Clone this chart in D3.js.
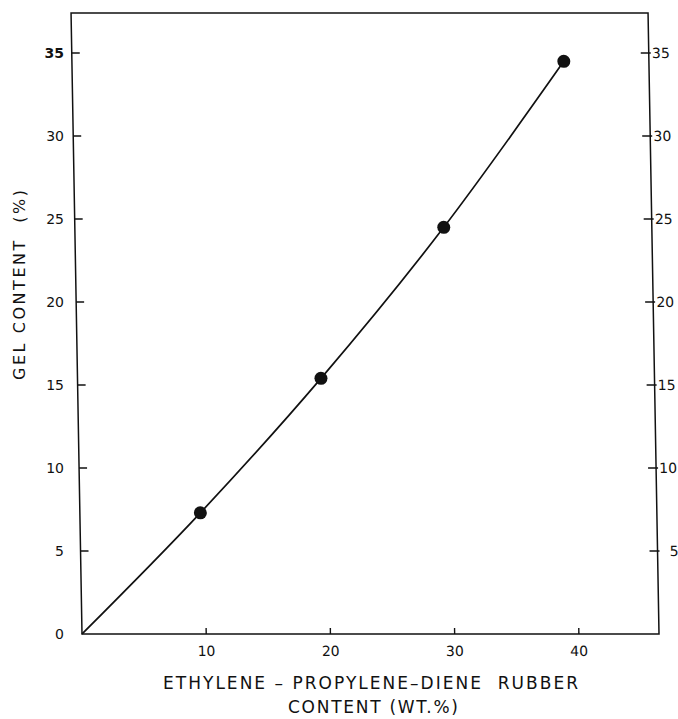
<!DOCTYPE html>
<html>
<head>
<meta charset="utf-8">
<script src="https://cdn.jsdelivr.net/npm/d3@7"></script>
<style>
  body { margin: 0; background: #fff; }
  text { font-family: "DejaVu Sans", "Liberation Sans", sans-serif; fill: #111; white-space: pre; }
</style>
</head>
<body>
<svg id="chart" width="678" height="719"></svg>
<script>
const epdmContent = [9.7, 19.6, 29.7, 39.6];
const gelContent = [7.3, 15.4, 24.5, 34.5];
// the fitted curve starts at the origin
const curveStart = [0, 0];

const xTicks = [10, 20, 30, 40];
const yTicksLeft = [0, 5, 10, 15, 20, 25, 30, 35];
const yTicksRight = [5, 10, 15, 20, 25, 30, 35];

const svg = d3.select('#chart');
const margin = { left: 82, right: 659, top: 13, bottom: 634 };

const x = d3.scaleLinear().domain([0, 46.45]).range([margin.left, margin.right]);
const y = d3.scaleLinear().domain([0, 37.41]).range([margin.bottom, margin.top]);

// the scanned figure leans slightly: verticals are skewed about the x axis
const plot = svg.append('g')
  .attr('transform', `translate(0,${margin.bottom}) skewX(1.01) translate(0,${-margin.bottom})`);

// frame
plot.append('rect')
  .attr('x', x(0))
  .attr('y', y(37.41))
  .attr('width', x(46.45) - x(0))
  .attr('height', y(0) - y(37.41))
  .attr('fill', 'none')
  .attr('stroke', '#111')
  .attr('stroke-width', 1.5);

// left ticks (inward)
plot.selectAll('.ltick')
  .data(yTicksLeft.filter(d => d > 0))
  .enter().append('line')
  .attr('x1', x(0)).attr('x2', x(0) + 8)
  .attr('y1', d => y(d)).attr('y2', d => y(d))
  .attr('stroke', '#111').attr('stroke-width', 1.4);

// right ticks (inward with a small stub outside)
plot.selectAll('.rtick')
  .data(yTicksRight)
  .enter().append('line')
  .attr('x1', x(46.45) - 8).attr('x2', x(46.45) + 2)
  .attr('y1', d => y(d)).attr('y2', d => y(d))
  .attr('stroke', '#111').attr('stroke-width', 1.4);

// bottom ticks (upward)
plot.selectAll('.xtick')
  .data(xTicks)
  .enter().append('line')
  .attr('x1', d => x(d)).attr('x2', d => x(d))
  .attr('y1', y(0)).attr('y2', y(0) - 6)
  .attr('stroke', '#111').attr('stroke-width', 1.4);

// right tick labels
plot.selectAll('.rlabel')
  .data(yTicksRight)
  .enter().append('text')
  .attr('x', x(46.45) + 21)
  .attr('y', d => y(d))
  .attr('dy', '0.36em')
  .attr('text-anchor', 'end')
  .style('font-size', '14px')
  .text(d => d);

// x tick labels
plot.selectAll('.xlabel')
  .data(xTicks)
  .enter().append('text')
  .attr('x', d => x(d))
  .attr('y', y(0) + 22)
  .attr('text-anchor', 'middle')
  .style('font-size', '14px')
  .text(d => d);

// left tick labels sit in an upright column
svg.selectAll('.llabel')
  .data(yTicksLeft)
  .enter().append('text')
  .attr('x', 64)
  .attr('y', d => y(d))
  .attr('dy', '0.36em')
  .attr('text-anchor', 'end')
  .style('font-size', '14px')
  .style('font-weight', d => d === 35 ? 'bold' : 'normal')
  .text(d => d);

// curve through the origin and the measured points
const curvePts = [curveStart].concat(epdmContent.map((v, i) => [v, gelContent[i]]));
const line = d3.line()
  .x(d => x(d[0]))
  .y(d => y(d[1]))
  .curve(d3.curveMonotoneX);

plot.append('path')
  .datum(curvePts)
  .attr('d', line)
  .attr('fill', 'none')
  .attr('stroke', '#111')
  .attr('stroke-width', 1.7);

plot.selectAll('.dot')
  .data(epdmContent.map((v, i) => [v, gelContent[i]]))
  .enter().append('circle')
  .attr('cx', d => x(d[0]))
  .attr('cy', d => y(d[1]))
  .attr('r', 6.5)
  .attr('fill', '#111');

// axis titles
svg.append('text')
  .attr('x', 163).attr('y', 689)
  .attr('textLength', 415).attr('lengthAdjust', 'spacing')
  .style('font-size', '17px')
  .text('ETHYLENE – PROPYLENE–DIENE  RUBBER');

svg.append('text')
  .attr('x', 288).attr('y', 713)
  .attr('textLength', 170).attr('lengthAdjust', 'spacing')
  .style('font-size', '17px')
  .text('CONTENT (WT.%)');

svg.append('text')
  .attr('transform', 'translate(25,380) rotate(-90)')
  .attr('textLength', 190).attr('lengthAdjust', 'spacing')
  .style('font-size', '16px')
  .text('GEL CONTENT  (%)');
</script>
</body>
</html>
